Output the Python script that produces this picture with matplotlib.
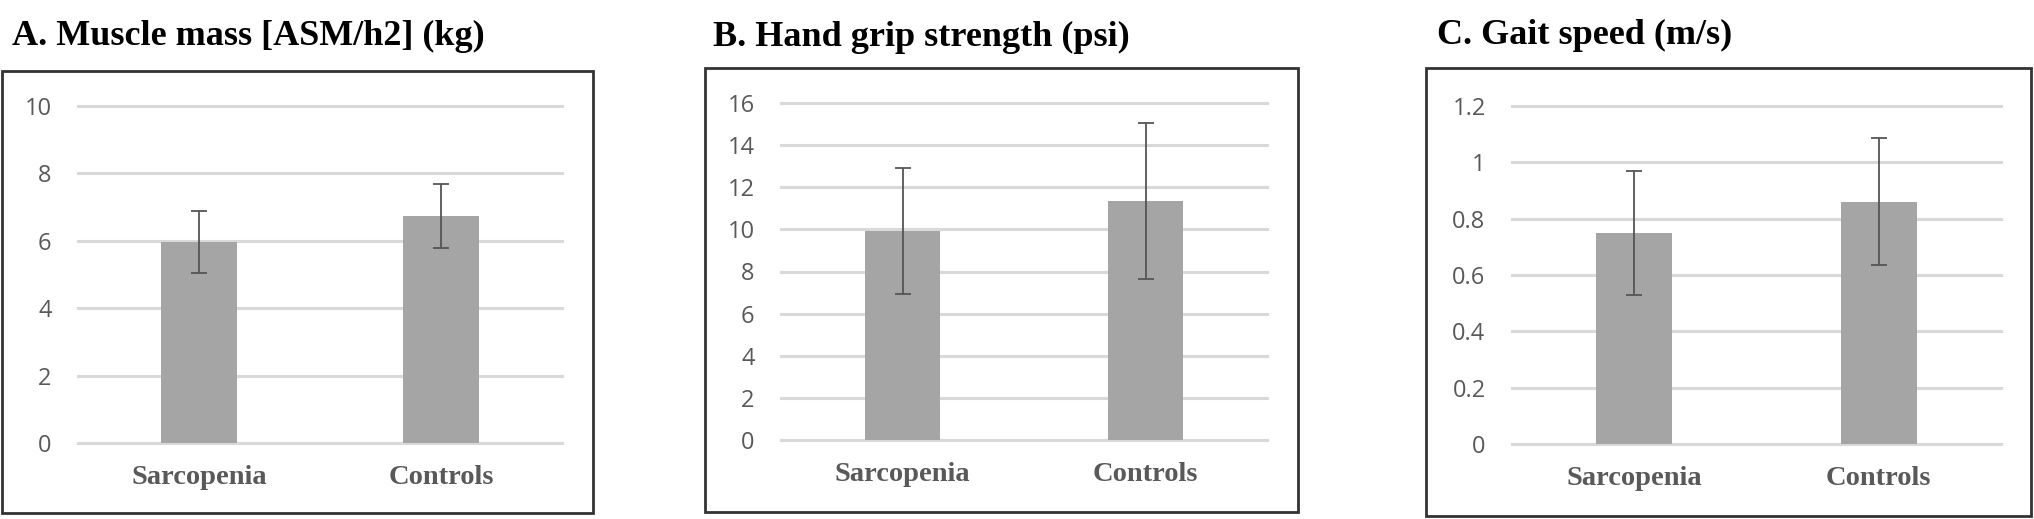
import matplotlib
matplotlib.use("Agg")
import matplotlib.pyplot as plt
from matplotlib.patches import Rectangle

groups = ["Sarcopenia", "Controls"]

# A. muscle mass
mass_mean = [5.97, 6.73]
mass_err = [0.92, 0.95]
# B. hand grip
grip_mean = [9.93, 11.33]
grip_err = [3.0, 3.7]
# C. gait speed
gait_mean = [0.75, 0.86]
gait_err = [0.22, 0.225]

titles = ["A. Muscle mass [ASM/h2] (kg)", "B. Hand grip strength (psi)", "C. Gait speed (m/s)"]
yticks = [[0, 2, 4, 6, 8, 10],
          [0, 2, 4, 6, 8, 10, 12, 14, 16],
          [0, 0.2, 0.4, 0.6, 0.8, 1, 1.2]]
ytick_labels = [["0", "2", "4", "6", "8", "10"],
                ["0", "2", "4", "6", "8", "10", "12", "14", "16"],
                ["0", "0.2", "0.4", "0.6", "0.8", "1", "1.2"]]

W, H = 2034, 519
fig = plt.figure(figsize=(W / 100, H / 100), dpi=100)

# pixel layouts: axes (left, right, top, bottom), frame box, title (x, baseline)
ax_px = [(78, 562, 106, 443), (781, 1267, 103, 440), (1512, 2001, 106, 444)]
box_px = [(2, 593, 71, 513), (705, 1298, 68, 512), (1426, 2031, 68, 516)]
title_px = [(12, 45), (713, 46), (1437, 44)]

bar_col = "#a5a5a5"
grid_col = "#d9d9d9"
txt_col = "#595959"

data = [(mass_mean, mass_err), (grip_mean, grip_err), (gait_mean, gait_err)]

for i in range(3):
    l, r, t, b = ax_px[i]
    ax = fig.add_axes([l / W, (H - b) / H, (r - l) / W, (b - t) / H])
    means, errs = data[i]
    ax.set_axisbelow(True)
    ax.bar(range(len(groups)), means, width=0.31, color=bar_col, zorder=2)
    ax.errorbar(range(len(groups)), means, yerr=errs, fmt="none", ecolor="#555555",
                elinewidth=1.3, capsize=6, capthick=1.3, zorder=3)
    ax.set_xlim(-0.5, 1.5)
    ax.set_ylim(yticks[i][0], yticks[i][-1])
    ax.set_yticks(yticks[i])
    ax.set_yticklabels(ytick_labels[i], fontfamily="Open Sans", fontsize=17, color=txt_col)
    ax.set_xticks(range(len(groups)))
    ax.set_xticklabels(groups, fontfamily="Liberation Serif", fontsize=20.5, color=txt_col,
                       fontweight="bold")
    ax.tick_params(axis="y", length=0, pad=19)
    ax.tick_params(axis="x", length=0, pad=16)
    ax.yaxis.grid(True, color=grid_col, linewidth=2.2, clip_on=False)
    for s in ax.spines.values():
        s.set_visible(False)

    bl, br, bt, bb = box_px[i]
    fig.patches.append(Rectangle((bl / W, (H - bb) / H), (br - bl) / W, (bb - bt) / H,
                                 transform=fig.transFigure, fill=False,
                                 edgecolor="#333333", linewidth=2))
    tx, ty = title_px[i]
    fig.text(tx / W, (H - ty) / H, titles[i], fontfamily="Liberation Serif",
             fontweight="bold", fontsize=26, color="black", va="baseline", ha="left")

fig.savefig("out.png", dpi=100)
